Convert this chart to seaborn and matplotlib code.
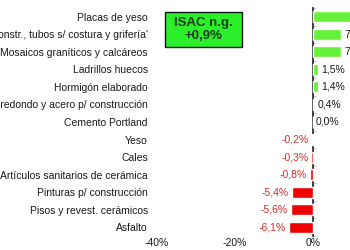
import matplotlib
matplotlib.use("Agg")
import matplotlib.pyplot as plt
import seaborn as sns
import pandas as pd
from matplotlib.patches import Rectangle

categories = [
    "Placas de yeso",
    "Artículos de constr., tubos s/ costura y grifería'",
    "Mosaicos graníticos y calcáreos",
    "Ladrillos huecos",
    "Hormigón elaborado",
    "Hierro redondo y acero p/ construcción",
    "Cemento Portland",
    "Yeso",
    "Cales",
    "Artículos sanitarios de cerámica",
    "Pinturas p/ construcción",
    "Pisos y revest. cerámicos",
    "Asfalto",
]
values = [12.5, 7.4, 7.3, 1.5, 1.4, 0.4, 0.0, -0.2, -0.3, -0.8, -5.4, -5.6, -6.1]
x_ticks = [-40, -20, 0]
x_ticklabels = ["-40%", "-20%", "0%"]
box_text = "ISAC n.g.\n+0,9%"

sns.set_theme(style="white")
plt.rcParams["font.family"] = ["Liberation Sans", "DejaVu Sans"]

df = pd.DataFrame({"cat": categories, "val": values})
df["sign"] = ["pos" if v >= 0 else "neg" for v in values]

fig = plt.figure(figsize=(3.5, 2.5), dpi=100)
fig.patch.set_facecolor("white")
ax = fig.add_axes([157 / 350, 14 / 250, 0.667, 228 / 250])

sns.barplot(data=df, y="cat", x="val", hue="sign",
            palette={"pos": "#66f23a", "neg": "#f00000"},
            dodge=False, legend=False, width=0.63, ax=ax, saturation=1)

ax.set_xlim(-40, 20)
ax.set_xticks(x_ticks)
ax.set_xticklabels(x_ticklabels)
ax.set_xlabel("")
ax.set_ylabel("")
for s in ax.spines.values():
    s.set_visible(False)
ax.tick_params(axis="both", length=0, labelsize=7.5, colors="#1a1a1a")
ax.tick_params(axis="y", pad=6.5)
ax.tick_params(axis="x", pad=1.5)

# zero axis line with small tick marks between categories
sec = ax.secondary_yaxis(40 / 60)
sec.set_yticks([i + 0.5 for i in range(-1, len(categories))])
sec.set_yticklabels([])
sec.tick_params(length=2.5, color="#c8c8c8", width=0.8)
sec.spines["left"].set_color("#c8c8c8")
sec.spines["left"].set_linewidth(0.8)

def fmt(v):
    return ("%.1f%%" % v).replace(".", ",")

for cont in ax.containers:
    labs = [fmt(bar.get_width()) for bar in cont]
    txts = ax.bar_label(cont, labels=labs, padding=2.2, fontsize=7.5)
    for t, bar in zip(txts, cont):
        t.set_color("#1a1a1a" if bar.get_width() >= 0 else "#d42a2a")

# ISAC box
fig.patches.append(Rectangle((165 / 350, (250 - 47) / 250), 77 / 350, 35 / 250,
                             transform=fig.transFigure, facecolor="#2bef2b",
                             edgecolor="#111111", linewidth=1.0, zorder=5))
fig.text(203.5 / 350, (250 - 29.5) / 250, box_text, ha="center", va="center",
         fontsize=9.5, fontweight="bold", color="#1f3a1f", linespacing=1.1, zorder=6)

fig.savefig("out.png", dpi=100)
